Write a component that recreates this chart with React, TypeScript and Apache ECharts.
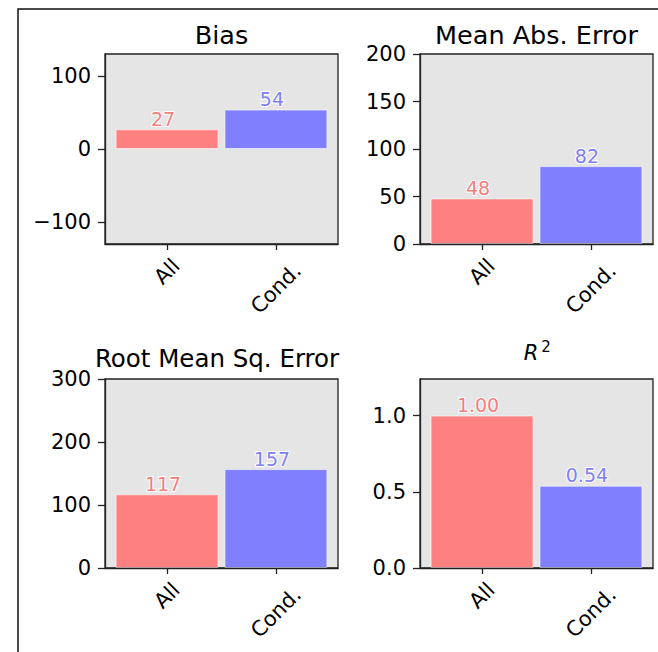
import React, { useEffect, useRef } from 'react';
import * as echarts from 'echarts';

const categories = ['All', 'Cond.'];
const biasValues = [27, 54];
const maeValues = [48, 82];
const rmseValues = [117, 157];
const r2Values = [1.0, 0.54];
const biasTicks = [-100, 0, 100];
const maeTicks = [0, 50, 100, 150, 200];
const rmseTicks = [0, 100, 200, 300];
const r2Ticks = [0, 0.5, 1.0];
const barColors = ['#ff8080', '#8080ff'];
const labelColors = ['#f08080', '#8080f0'];

const FONT = 'DejaVu Sans';

const panels = [
  { title: 'Bias', values: biasValues, ticks: biasTicks, min: -130, max: 130, digits: 0, tickDigits: 0, left: 105, top: 54, height: 190 },
  { title: 'Mean Abs. Error', values: maeValues, ticks: maeTicks, min: 0, max: 200, digits: 0, tickDigits: 0, left: 420, top: 54, height: 190 },
  { title: 'Root Mean Sq. Error', values: rmseValues, ticks: rmseTicks, min: 0, max: 300, digits: 0, tickDigits: 0, left: 105, top: 379, height: 189 },
  { title: 'R2', values: r2Values, ticks: r2Ticks, min: 0, max: 1.24, digits: 2, tickDigits: 1, left: 420, top: 379, height: 189 },
];
const PANEL_W = 233;

export default function App() {
  const ref = useRef<HTMLDivElement>(null);
  useEffect(() => {
    if (!ref.current) return;
    const chart = echarts.init(ref.current, null, { renderer: 'svg' });
    const grid = panels.map((p) => ({
      left: p.left,
      top: p.top,
      width: PANEL_W,
      height: p.height,
      show: true,
      backgroundColor: '#e5e5e5',
      borderColor: '#222',
      borderWidth: 1.3,
      containLabel: false,
    }));
    const xAxis = panels.map((p, i) => ({
      type: 'value',
      gridIndex: i,
      min: -0.57,
      max: 1.57,
      z: 5,
      splitLine: { show: false },
      axisLine: { show: true, onZero: false, lineStyle: { color: '#222', width: 1.3 } },
      axisTick: { show: true, customValues: [0, 1], length: 6, lineStyle: { color: '#222', width: 1.3 } },
      axisLabel: {
        customValues: [0, 1],
        rotate: 45,
        align: 'center',
        verticalAlign: 'middle',
        margin: 10,
        fontSize: 21,
        fontFamily: FONT,
        color: '#000',
        formatter: (v: number) => {
          const k = Math.round(v);
          return `{k${k}|${categories[k]}}`;
        },
        rich: {
          k0: { fontSize: 21, fontFamily: FONT, color: '#000', padding: [25, 25, 0, 0] },
          k1: { fontSize: 21, fontFamily: FONT, color: '#000', padding: [49, 49, 0, 0] },
        },
      },
    }));
    const yAxis = panels.map((p, i) => ({
      type: 'value',
      gridIndex: i,
      min: p.min,
      max: p.max,
      z: 5,
      splitLine: { show: false },
      axisLine: { show: true, onZero: false, lineStyle: { color: '#222', width: 1.3 } },
      axisTick: { show: true, customValues: p.ticks, length: 7, lineStyle: { color: '#222', width: 1.3 } },
      axisLabel: {
        customValues: p.ticks,
        margin: 14,
        fontSize: 21,
        fontFamily: FONT,
        color: '#000',
        formatter: (v: number) => v.toFixed(p.tickDigits).replace('-', '\u2212'),
      },
    }));
    const series = panels.map((p, i) => ({
      type: 'bar',
      xAxisIndex: i,
      yAxisIndex: i,
      barWidth: 103,
      data: p.values.map((v, j) => ({
        value: [j, v],
        itemStyle: { color: barColors[j] },
        label: { color: labelColors[j] },
      })),
      itemStyle: { borderColor: 'rgba(255,255,255,0.6)', borderWidth: 1 },
      label: {
        show: true,
        position: 'top',
        distance: 1,
        offset: [-4, 0],
        fontSize: 19,
        fontFamily: FONT,
        textBorderColor: '#fff',
        textBorderWidth: 2,
        formatter: (prm: any) => Number(prm.value[1]).toFixed(p.digits),
      },
    }));
    const txt = (text: string, x: number, y: number, fontSize: number, extraStyle: any = {}) => ({
      type: 'text',
      x,
      y,
      style: {
        text,
        fontSize,
        fontFamily: FONT,
        fill: '#000',
        align: 'center',
        verticalAlign: 'middle',
        ...extraStyle,
      },
    });
    const graphic: any[] = [
      {
        type: 'rect',
        shape: { x: 18, y: 9, width: 700, height: 700 },
        style: { fill: 'none', stroke: '#111', lineWidth: 1.5 },
        z: 0,
      },
      txt(panels[0].title, 221.5, 34.5, 25.5),
      txt(panels[1].title, 536.5, 34.5, 25.5),
      txt(panels[2].title, 217, 358, 24.5),
      txt('R', 531, 352.5, 21, { fontStyle: 'italic' }),
      txt('2', 546, 347, 15),
    ];
    chart.setOption({
      animation: false,
      backgroundColor: '#fff',
      grid,
      xAxis,
      yAxis,
      series,
      graphic,
    } as any);
    return () => chart.dispose();
  }, []);
  return <div ref={ref} style={{ position: 'fixed', left: 0, top: 0, width: 658, height: 652 }} />;
}
